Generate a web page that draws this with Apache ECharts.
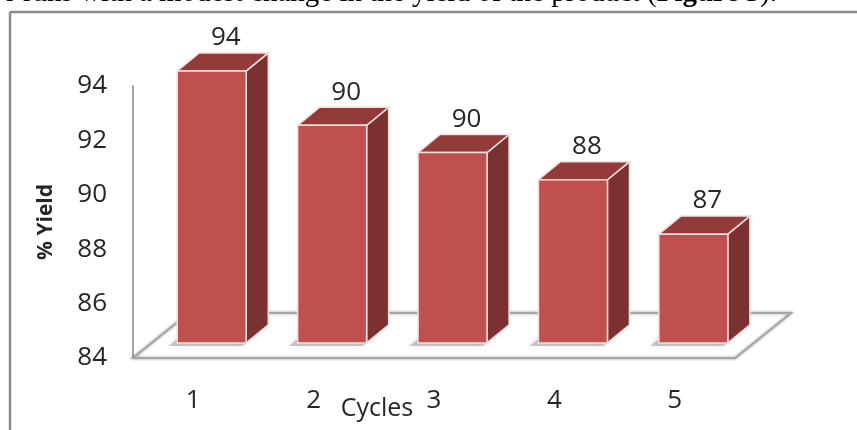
<!DOCTYPE html>
<html>
<head>
<meta charset="utf-8">
<script src="https://cdn.jsdelivr.net/npm/echarts@6/dist/echarts.min.js"></script>
<style>
  html, body { margin: 0; padding: 0; background: #fff; }
  #YieldChart { width: 857px; height: 430px; }
</style>
</head>
<body>
<div id="YieldChart"></div>
<script>
// data
var cycles = ['1', '2', '3', '4', '5'];
var yieldValues = [94, 92, 91, 90, 88];          // bar heights as drawn
var yieldLabels = ['94', '90', '90', '88', '87']; // numbers printed above the bars
var yieldMin = 84;
var yieldMax = 94;
var yieldStep = 2;

var frontColor = '#C0504D';
var topColor = '#933B39';
var sideColor = '#7B3130';

// floor of the 3d plot, drawn from the grid of the category axis
function renderFloor(params, api) {
  var cs = params.coordSys;
  var band = cs.width / cycles.length;
  var dX = band * 0.465, dY = -band * 0.374;
  var yb = cs.y + cs.height;
  return {
    type: 'polygon',
    shape: {
      points: [[cs.x, yb], [cs.x + cs.width, yb], [cs.x + cs.width + dX, yb + dY], [cs.x + dX, yb + dY]]
    },
    style: {
      fill: '#fff',
      stroke: '#a6a6a6',
      lineWidth: 2,
      shadowBlur: 3,
      shadowColor: 'rgba(0,0,0,0.35)'
    }
  };
}

function renderBar(params, api) {
  var i = api.value(0);
  var topPt = api.coord([i, api.value(1)]);
  var basePt = api.coord([i, yieldMin]);
  var band = api.size([1, 0])[0];
  var w = band * 0.573;
  var sx = band * 0.154, sy = -band * 0.125; // bar front plane behind the floor edge
  var dx = band * 0.183, dy = -band * 0.15;  // bar depth
  var x0 = topPt[0] + sx - w / 2, x1 = x0 + w;
  var yt = topPt[1] + sy, yb = basePt[1] + sy;
  var edge = { stroke: '#f3dedd', lineWidth: 1.5 };
  return {
    type: 'group',
    children: [
      {
        type: 'polygon',
        shape: { points: [[x0 - 9, yb + 3], [x1 - 4, yb + 3], [x1 + dx - 4, yb + dy + 3], [x0 + dx - 9, yb + dy + 3]] },
        style: { fill: 'rgba(0,0,0,0.2)', shadowBlur: 7, shadowColor: 'rgba(0,0,0,0.45)' }
      },
      {
        type: 'polygon',
        shape: { points: [[x1, yt], [x1 + dx, yt + dy], [x1 + dx, yb + dy], [x1, yb]] },
        style: Object.assign({ fill: sideColor }, edge)
      },
      {
        type: 'polygon',
        shape: { points: [[x0, yt], [x1, yt], [x1 + dx, yt + dy], [x0 + dx, yt + dy]] },
        style: Object.assign({ fill: topColor }, edge)
      },
      {
        type: 'rect',
        shape: { x: x0, y: yt, width: w, height: yb - yt },
        style: Object.assign({ fill: frontColor }, edge)
      },
      {
        type: 'text',
        style: {
          text: yieldLabels[params.dataIndex],
          x: (x0 + x1) / 2 + 14,
          y: yt + dy - 2,
          textAlign: 'center',
          textVerticalAlign: 'bottom',
          font: '26px "Open Sans"',
          fill: '#262626'
        }
      }
    ]
  };
}

var chart = echarts.init(document.getElementById('YieldChart'));
chart.setOption({
  animation: false,
  grid: { left: 133, right: 122, top: 86, bottom: 72, containLabel: false, outerBoundsMode: 'none' },
  xAxis: {
    type: 'category',
    data: cycles,
    name: 'Cycles',
    nameLocation: 'middle',
    nameGap: 38,
    nameMoveOverlap: false,
    nameTextStyle: { fontSize: 25, color: '#262626', fontFamily: 'Open Sans', padding: [0, 114, 0, 0] },
    axisLine: { show: false },
    axisTick: { show: false },
    axisLabel: { fontSize: 26, color: '#262626', fontFamily: 'Open Sans', margin: 30 }
  },
  yAxis: {
    type: 'value',
    min: yieldMin,
    max: yieldMax,
    interval: yieldStep,
    name: '% Yield',
    nameLocation: 'middle',
    nameRotate: 90,
    nameGap: 76,
    nameTextStyle: { fontSize: 21, fontWeight: 'bold', color: '#262626', fontFamily: 'Open Sans' },
    axisLine: { show: true, lineStyle: { color: '#a6a6a6', width: 2 } },
    axisTick: { show: false },
    splitLine: { show: false },
    axisLabel: { fontSize: 26, color: '#262626', fontFamily: 'Open Sans', margin: 26 }
  },
  graphic: [
    {
      type: 'text',
      x: 777,
      y: 8,
      style: {
        text: 'r runs with a modest change in the yield of the product ({b|Figure 5}).',
        font: '29px "Liberation Serif"',
        fill: '#000',
        textAlign: 'right',
        textVerticalAlign: 'bottom',
        rich: { b: { fontWeight: 'bold', fontFamily: 'Liberation Serif', fontSize: 29 } }
      }
    },
    { type: 'line', shape: { x1: 10, y1: 12, x2: 857, y2: 12 }, style: { stroke: '#8c8c8c', lineWidth: 2.5 } },
    { type: 'line', shape: { x1: 10, y1: 12, x2: 10, y2: 430 }, style: { stroke: '#8c8c8c', lineWidth: 2.5 } }
  ],
  series: [
    {
      type: 'custom',
      z: 1,
      renderItem: renderFloor,
      data: [[0, yieldMin]],
      silent: true
    },
    {
      type: 'custom',
      z: 2,
      renderItem: renderBar,
      data: cycles.map(function (c, i) { return [i, yieldValues[i]]; })
    }
  ]
});
</script>
</body>
</html>
